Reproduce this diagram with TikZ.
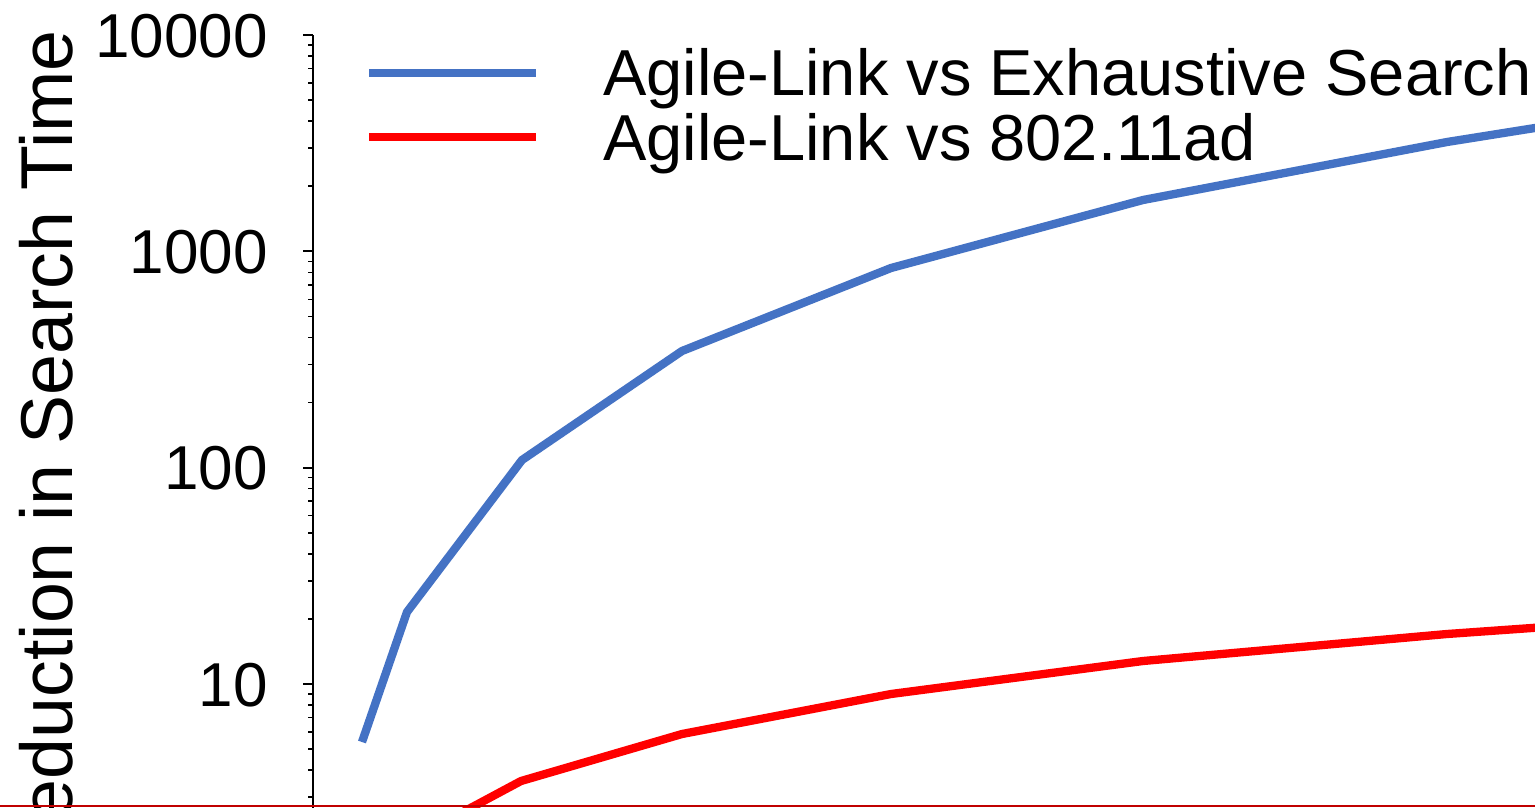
\documentclass[tikz,border=0pt]{standalone}
\usepackage{fontspec}
\setmainfont{Liberation Sans}
\definecolor{seriesblue}{HTML}{4472C4}
\definecolor{seriesred}{HTML}{FF0000}
\definecolor{edgered}{HTML}{C00000}
\begin{document}
\begin{tikzpicture}[x=1pt,y=1pt,
  series/.style={line width=8.3pt, line join=round},
  axisline/.style={line width=2.5pt, black},
  majortick/.style={line width=2pt, black},
  minortick/.style={line width=1.6pt, black},
  ticklabel/.style={anchor=base east, inner sep=0pt, font=\fontsize{62}{62}\selectfont},
  legendtext/.style={anchor=base west, inner sep=0pt, font=\fontsize{65}{65}\selectfont},
  axislabel/.style={rotate=90, anchor=base east, inner sep=0pt, font=\fontsize{73.5}{73.5}\selectfont}]
\useasboundingbox (0,-807) rectangle (1535,0);
\fill[white] (0,-807) rectangle (1535,0);
\begin{scope}
\clip (0,-807) rectangle (1535,0);

% y axis (log scale: one decade = 216.3 units, value 10 at y=-684)
\coordinate (axtop) at (313,-35);
\coordinate (axbot) at (313,-812);
\draw[axisline] (axtop) -- (axbot);
\foreach \v in {10,100,1000,10000}{
  \pgfmathsetmacro{\yy}{-684+216.3*log10(\v/10)}
  \draw[majortick] (303,\yy) -- (313,\yy);
}
\foreach \d in {0.1,1,10,100}{
  \foreach \m in {2,...,9}{
    \pgfmathsetmacro{\yy}{-684+216.3*log10(\m*\d)}
    \draw[minortick] (308,\yy) -- (313,\yy);
  }
}
\node[ticklabel] (t4) at (268,-57) {10000};
\node[ticklabel] (t3) at (268,-273) {1000};
\node[ticklabel] (t2) at (268,-489.5) {100};
\node[ticklabel] (t1) at (268,-706) {10};

\node[axislabel] (ylab) at (72,-30) {Reduction in Search Time};

% Agile-Link vs Exhaustive Search
\coordinate (b1) at (362,-742);
\coordinate (b2) at (407,-612);
\coordinate (b3) at (522,-460);
\coordinate (b4) at (682,-351);
\coordinate (b5) at (891,-268);
\coordinate (b6) at (1143,-200);
\coordinate (b7) at (1447,-142);
\coordinate (b8) at (1560,-124);
\draw[series, seriesblue] (b1) -- (b2) -- (b3) -- (b4) -- (b5) -- (b6) -- (b7) -- (b8);

% Agile-Link vs 802.11ad
\coordinate (r2) at (407,-842);
\coordinate (r3) at (521,-781);
\coordinate (r4) at (682,-734);
\coordinate (r5) at (891,-694);
\coordinate (r6) at (1143,-661);
\coordinate (r7) at (1447,-634);
\coordinate (r8) at (1560,-626);
\draw[series, seriesred] (r2) -- (r3) -- (r4) -- (r5) -- (r6) -- (r7) -- (r8);

% legend
\coordinate (lb0) at (369,-73);
\coordinate (lb1) at (536,-73);
\coordinate (lr0) at (369,-137);
\coordinate (lr1) at (536,-137);
\draw[series, seriesblue] (lb0) -- (lb1);
\draw[series, seriesred] (lr0) -- (lr1);
\node[legendtext] (lgb) at (603,-95) {Agile-Link vs Exhaustive Search};
\node[legendtext] (lgr) at (603,-160) {Agile-Link vs 802.11ad};

% bottom edge
\coordinate (e0) at (0,-806);
\coordinate (e1) at (1535,-806);
\draw[line width=1.5pt, edgered] (e0) -- (e1);
\end{scope}
\end{tikzpicture}
\end{document}
